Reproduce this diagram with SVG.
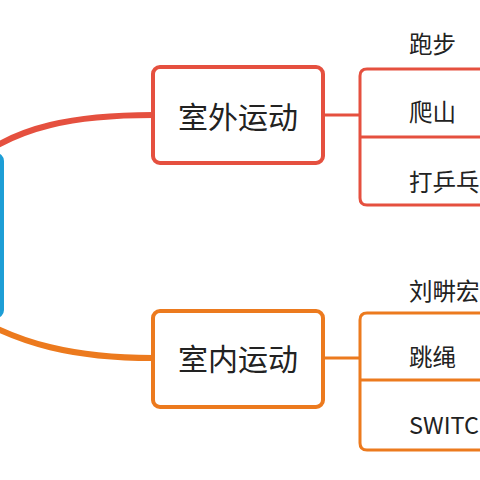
<svg xmlns="http://www.w3.org/2000/svg" width="480" height="480" viewBox="0 0 480 480">
<style>
.box{fill:#fff;stroke-width:4}
.red{stroke:#e5503f}
.orange{stroke:#ec7a1e}
.main{font-family:"Noto Sans CJK SC","Noto Sans",sans-serif;font-size:30px;fill:#222;text-anchor:middle}
.sub{font-family:"Noto Sans CJK SC","Noto Sans",sans-serif;font-size:23.5px;fill:#222}
.ln{fill:none;stroke-width:3}
</style>
<rect width="480" height="480" fill="#fff"/>
<g id="connectors">
<path d="M -20 156 C 20 128, 70 115, 153 115" fill="none" stroke="#e5503f" stroke-width="6"/>
<path d="M -20 320 C 20 342, 70 358, 153 358" fill="none" stroke="#ec7a1e" stroke-width="6"/>
<path class="ln red" d="M 324 115 H 360 M 490 69 H 367 Q 360 69 360 76 V 198 Q 360 205 367 205 H 490 M 360 137 H 490"/>
<path class="ln orange" d="M 324 358 H 360 M 490 313 H 367 Q 360 313 360 320 V 443 Q 360 450 367 450 H 490 M 360 380 H 490"/>
</g>
<g id="root">
<rect x="-100" y="155" width="102" height="161" rx="6" fill="#fff" stroke="#1d9ed6" stroke-width="4"/>
</g>
<g id="outdoor">
<rect class="box red" x="153" y="67" width="170" height="96" rx="7"/>
<text class="main" x="238" y="128">室外运动</text>
</g>
<g id="indoor">
<rect class="box orange" x="153" y="311" width="170" height="96" rx="7"/>
<text class="main" x="238" y="370">室内运动</text>
</g>
<g id="run"><text class="sub" x="409" y="53">跑步</text></g>
<g id="climb"><text class="sub" x="409" y="121">爬山</text></g>
<g id="pingpong"><text class="sub" x="409" y="191">打乒乓球</text></g>
<g id="liu"><text class="sub" x="409" y="300">刘畊宏</text></g>
<g id="rope"><text class="sub" x="409" y="366">跳绳</text></g>
<g id="switch"><text class="sub" x="409" y="434">SWITCH</text></g>
</svg>
